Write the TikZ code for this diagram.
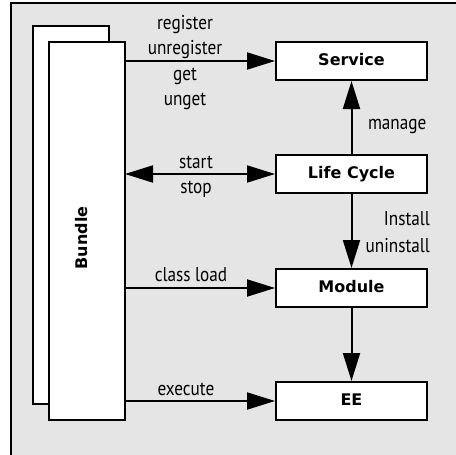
\documentclass[tikz,border=0pt]{standalone}
\usepackage{fontspec}
\setmainfont{PT Sans}
\newfontfamily\lblfont[FakeStretch=0.86]{PT Sans}
\newfontfamily\boxfont{DejaVu Sans}
\usetikzlibrary{arrows.meta}
\definecolor{bggray}{HTML}{E5E5E5}
\begin{document}
\begin{tikzpicture}[x=1pt,y=-1pt,
  line width=2pt,
  box/.style={draw, fill=white, minimum width=151pt, minimum height=38pt, inner sep=0pt,
    text height=12pt, text depth=4pt,
    font=\boxfont\fontsize{16}{19}\selectfont\bfseries},
  lbl/.style={inner sep=0pt, font=\lblfont\fontsize{20}{23}\selectfont},
  conn/.style={-{Triangle[length=28pt 0 0, width=17pt 0 0]}},
  dconn/.style={{Triangle[length=28pt 0 0, width=17pt 0 0]}-{Triangle[length=28pt 0 0, width=17pt 0 0]}}]
\useasboundingbox (0,0) rectangle (456,455);
\fill[bggray] (11,3) rectangle (456,455);
\draw (11,455) -- (11,3) -- (456,3);
% bundles
\draw[fill=white] (33,26) rectangle (109,404);
\draw[fill=white] (49,42) rectangle (125,420);
\coordinate (bundleE) at (125,231);
\node[inner sep=0pt, font=\boxfont\fontsize{16}{19}\selectfont\bfseries, rotate=90, anchor=base] (bundlelbl) at (87,238) {Bundle};
% boxes
\node[box] (service) at (351.5,61) {Service};
\node[box] (lifecycle) at (351.5,174) {Life Cycle};
\node[box] (module) at (351.5,288) {Module};
\node[box] (ee) at (351.5,401) {EE};
% horizontal connectors
\draw[conn] (bundleE |- service) -- (service.west);
\draw[dconn] (bundleE |- lifecycle) -- (lifecycle.west);
\draw[conn] (bundleE |- module) -- (module.west);
\draw[conn] (bundleE |- ee) -- (ee.west);
% vertical connectors
\draw[conn] (lifecycle.north) -- (service.south);
\draw[conn] (lifecycle.south) -- (module.north);
\draw[conn] (module.south) -- (ee.north);
% labels
\node[lbl, anchor=base] (l1) at (185,29) {register};
\node[lbl, anchor=base] (l2) at (185,54) {unregister};
\node[lbl, anchor=base] (l3) at (185,80) {get};
\node[lbl, anchor=base] (l4) at (185,105) {unget};
\node[lbl, anchor=base] (l5) at (196,168) {start};
\node[lbl, anchor=base] (l6) at (196,193) {stop};
\node[lbl, anchor=base] (l7) at (191,281) {class load};
\node[lbl, anchor=base] (l8) at (186,395) {execute};
\node[lbl, anchor=base west] (l9) at (367,129) {manage};
\node[lbl, anchor=base east] (l10) at (431,225) {Install};
\node[lbl, anchor=base east] (l11) at (431,252) {uninstall};
\end{tikzpicture}
\end{document}
